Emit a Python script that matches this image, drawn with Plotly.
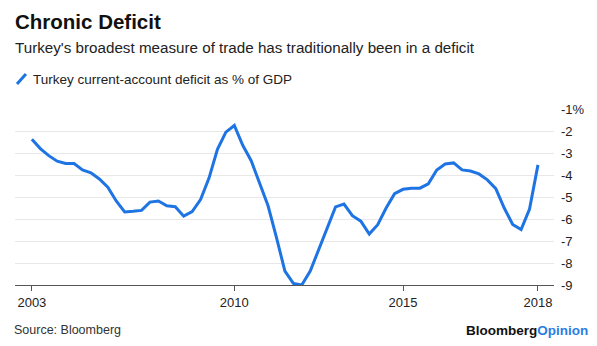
import plotly.graph_objects as go

# Turkey current-account balance, % of GDP (quarterly observations)
period_index = list(range(61))
deficit_pct = [
    -2.37, -2.80, -3.12, -3.37, -3.48, -3.48, -3.77, -3.90, -4.18, -4.55,
    -5.18, -5.68, -5.65, -5.61, -5.23, -5.18, -5.40, -5.44, -5.87, -5.66,
    -5.12, -4.14, -2.83, -2.05, -1.75, -2.65, -3.35, -4.35, -5.40, -6.85,
    -8.37, -8.93, -9.00, -8.37, -7.40, -6.45, -5.45, -5.32, -5.85, -6.10,
    -6.68, -6.26, -5.50, -4.85, -4.65, -4.60, -4.60, -4.40, -3.77, -3.50,
    -3.45, -3.77, -3.82, -3.95, -4.22, -4.62, -5.50, -6.25, -6.48, -5.55,
    -3.54,
]

x_tick_pos = [0, 24, 44, 60]
x_tick_labels = ["2003", "2010", "2015", "2018"]
y_tick_vals = [-1, -2, -3, -4, -5, -6, -7, -8, -9]
y_tick_labels = ["-1%", "-2", "-3", "-4", "-5", "-6", "-7", "-8", "-9"]

BLUE = "#1f74e3"
FONT = "Liberation Sans, Arial, sans-serif"

fig = go.Figure()
fig.add_trace(go.Scatter(
    x=period_index, y=deficit_pct, mode="lines",
    line=dict(color=BLUE, width=3, shape="linear"),
    hoverinfo="skip", showlegend=False,
))

fig.update_layout(
    width=597, height=346,
    margin=dict(l=15, r=41, t=109, b=61),
    paper_bgcolor="white", plot_bgcolor="white",
    font=dict(family=FONT, color="#333333", size=13),
    xaxis=dict(
        range=[-2.0, 61.9], tickmode="array",
        tickvals=x_tick_pos, ticktext=x_tick_labels,
        showgrid=False, zeroline=False,
        showline=True, linecolor="#555555", linewidth=1,
        ticks="outside", ticklen=5, tickcolor="#555555", tickwidth=1,
        tickfont=dict(size=13, color="#222222"),
    ),
    yaxis=dict(
        range=[-9, -1], side="right", tickmode="array",
        tickvals=y_tick_vals, ticktext=y_tick_labels,
        showgrid=True, gridcolor="#e8e8e8", gridwidth=1,
        zeroline=False, showline=False, ticks="",
        ticklabelstandoff=6,
        tickfont=dict(size=13, color="#222222"),
    ),
)

# Title block
fig.add_annotation(text="<b>Chronic Deficit</b>", xref="paper", yref="paper",
                   x=0, y=0, xanchor="left", yanchor="middle", showarrow=False,
                   font=dict(size=20.5, color="#111111", family=FONT))
fig.add_annotation(text="Turkey's broadest measure of trade has traditionally been in a deficit",
                   xref="paper", yref="paper", x=0, y=0, xanchor="left", yanchor="middle",
                   showarrow=False, font=dict(size=15.2, color="#222222", family=FONT))
fig.add_annotation(text="Turkey current-account deficit as % of GDP",
                   xref="paper", yref="paper", x=0, y=0, xanchor="left", yanchor="middle",
                   showarrow=False, font=dict(size=13.5, color="#222222", family=FONT))
fig.add_annotation(text="Source: Bloomberg", xref="paper", yref="paper",
                   x=0, y=0, xanchor="left", yanchor="middle", showarrow=False,
                   font=dict(size=12.5, color="#333333", family=FONT))
fig.add_annotation(text="<b>Bloomberg</b><b><span style='color:#2a7de1'>Opinion</span></b>",
                   xref="paper", yref="paper", x=0, y=0, xanchor="right", yanchor="middle",
                   showarrow=False, font=dict(size=13.5, color="#111111", family=FONT))

# Position the header/footer texts in pixel terms relative to the plot area
plot_w = 597 - 15 - 41
plot_h = 346 - 109 - 61


def px_to_paper(px, py):
    return (px - 15) / plot_w, (346 - 61 - py) / plot_h


positions = [(13, 22), (13, 47), (31, 79), (12, 330), (592, 330)]
anns = list(fig.layout.annotations)
for ann, (px, py) in zip(anns, positions):
    ann.x, ann.y = px_to_paper(px, py)
fig.layout.annotations = anns

# Legend swatch: short diagonal stroke
x0, y0 = px_to_paper(17, 84)
x1, y1 = px_to_paper(26, 74)
fig.add_shape(type="line", xref="paper", yref="paper", x0=x0, y0=y0, x1=x1, y1=y1,
              line=dict(color=BLUE, width=3))

fig.write_html("out.html")
